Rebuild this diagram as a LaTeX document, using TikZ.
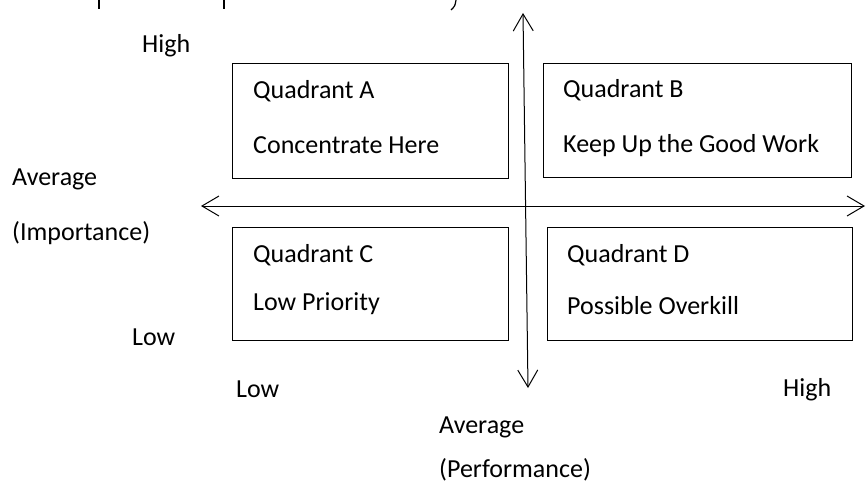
\documentclass[tikz,border=0pt]{standalone}
\usepackage{fontspec}
\setmainfont{Carlito}
\usetikzlibrary{arrows.meta}
\begin{document}
\begin{tikzpicture}[x=1pt,y=-1pt,
  every node/.style={font=\fontsize{26}{31}\selectfont, inner sep=0pt},
  quadbox/.style={draw, line width=1.1pt, minimum width=#1, anchor=north west},
  label/.style={anchor=base west},
  axis/.style={line width=1pt, {Straight Barb[length=17pt,width=20pt,line width=1pt]}-{Straight Barb[length=17pt,width=20pt,line width=1pt]}}
]
\useasboundingbox (0,0) rectangle (866,492);

% quadrant frames
\node[quadbox=276pt, minimum height=115pt] (boxA) at (232,63) {};
\node[quadbox=308pt, minimum height=114pt] (boxB) at (543,63) {};
\node[quadbox=276pt, minimum height=113pt] (boxC) at (232,227) {};
\node[quadbox=305pt, minimum height=113pt] (boxD) at (547,227) {};

% quadrant texts
\node[label] (qA1) at (253,99) {Quadrant A};
\node[label] (qA2) at (253,153) {Concentrate Here};
\node[label] (qB1) at (563,98) {Quadrant B};
\node[label] (qB2) at (563,152) {Keep Up the Good Work};
\node[label] (qC1) at (253,262) {Quadrant C};
\node[label] (qC2) at (253,310) {Low Priority};
\node[label] (qD1) at (567,262) {Quadrant D};
\node[label] (qD2) at (567,314) {Possible Overkill};

% axes
\coordinate (ytop) at (523,13);
\coordinate (ybot) at (528,388);
\coordinate (xleft) at (201,206);
\coordinate (xright) at (865,206);
\draw[axis] (ybot) -- (ytop);
\draw[axis] (xleft) -- (xright);

% importance scale (left)
\node[label] (impHigh) at (142,53) {High};
\node[label] (impAvg) at (12,185) {Average};
\node[label] (impName) at (12,240) {(Importance)};
\node[label] (impLow) at (132,345) {Low};

% performance scale (bottom)
\node[label] (perfLow) at (236,397) {Low};
\node[label] (perfHigh) at (783,396) {High};
\node[label] (perfAvg) at (439,433) {Average};
\node[label] (perfName) at (439,477) {(Performance)};

% descenders of a text line cut off at the top edge
\draw[line width=1.2pt] (99,0) -- (99,9);
\draw[line width=1.2pt] (224,0) -- (224,9);
\draw[line width=1.2pt] (456,0) .. controls (455,6) .. (451,10);
\end{tikzpicture}
\end{document}
